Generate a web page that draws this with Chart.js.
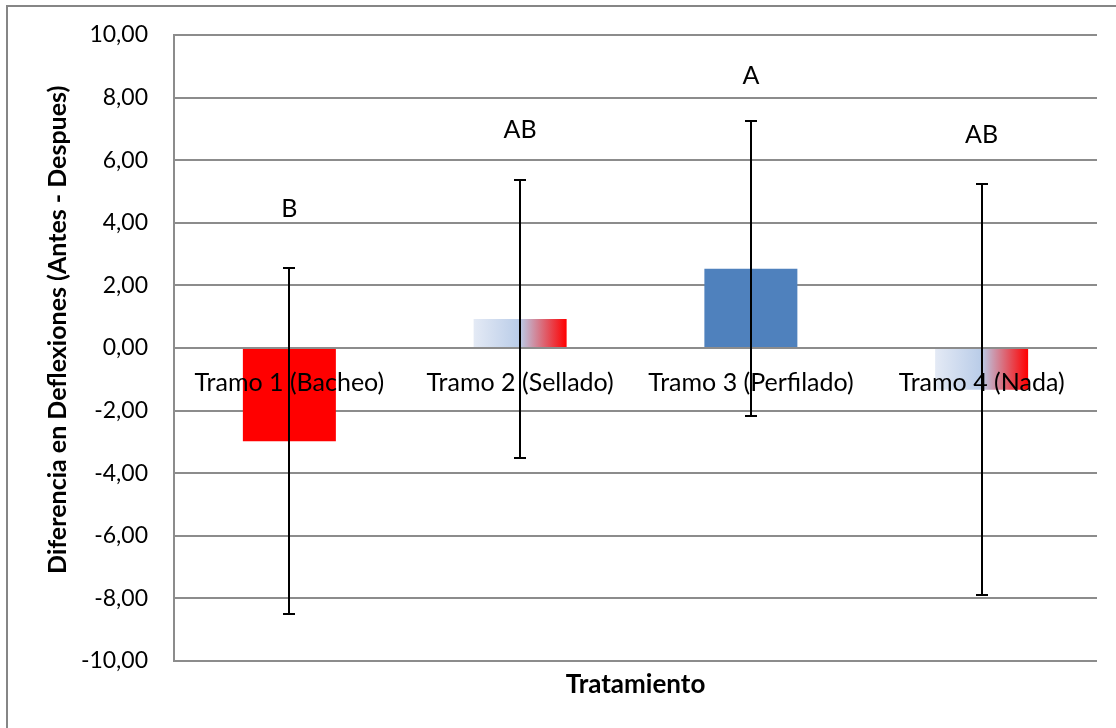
<!DOCTYPE html>
<html><head><meta charset="utf-8">
<script src="https://cdn.jsdelivr.net/npm/chart.js@4/dist/chart.umd.min.js"></script>
<style>html,body{margin:0;padding:0;background:#fff;} canvas{display:block;}</style>
</head><body>
<canvas id="c" width="1116" height="728"></canvas>
<script>
// ---- data ----
const categories = ['Tramo 1 (Bacheo)', 'Tramo 2 (Sellado)', 'Tramo 3 (Perfilado)', 'Tramo 4 (Nada)'];
const meanValues = [-2.98, 0.93, 2.53, -1.33];
const errorValues = [5.52, 4.45, 4.71, 6.57];
const groupLetters = ['B', 'AB', 'A', 'AB'];
const letterValues = [4.45, 6.97, 8.70, 6.81];
const yTickValues = [-10, -8, -6, -4, -2, 0, 2, 4, 6, 8, 10];

// ---- style ----
const FONT = 'Lato, "Liberation Sans", sans-serif';
const BAR_PCT = 0.403;
const fills = ['#FF0000', 'gradient', '#4F81BD', 'gradient'];
const GRID = '#8c8c8c';

function barFill(c) {
  const f = fills[c.dataIndex];
  if (f !== 'gradient') return f;
  const chart = c.chart; const xs = chart.scales && chart.scales.x;
  if (!xs || !isFinite(xs.left) || !(xs.width > 0)) return '#B9CCE8';
  const center = xs.getPixelForValue(c.dataIndex);
  const w = xs.width / categories.length * BAR_PCT;
  const g = chart.ctx.createLinearGradient(center - w / 2, 0, center + w / 2, 0);
  g.addColorStop(0, '#E4EAF5');
  g.addColorStop(0.5, '#B9CCE8');
  g.addColorStop(1, '#FF0000');
  return g;
}

const framePlugin = {
  id: 'frame',
  beforeDraw(chart) {
    const ctx = chart.ctx;
    ctx.save();
    ctx.fillStyle = '#fff';
    ctx.fillRect(0, 0, chart.width, chart.height);
    ctx.strokeStyle = '#868686';
    ctx.lineWidth = 2;
    ctx.strokeRect(7, 6, 3000, 3000);
    ctx.restore();
  }
};

const extrasPlugin = {
  id: 'extras',
  afterDraw(chart) {
    const ctx = chart.ctx, xs = chart.scales.x, ys = chart.scales.y;
    ctx.save();
    ctx.strokeStyle = '#000';
    ctx.lineWidth = 2;
    meanValues.forEach((m, i) => {
      const x = Math.round(xs.getPixelForValue(i));
      const yt = Math.round(ys.getPixelForValue(m + errorValues[i]));
      const yb = Math.round(ys.getPixelForValue(m - errorValues[i]));
      ctx.beginPath();
      ctx.moveTo(x, yt); ctx.lineTo(x, yb);
      ctx.moveTo(x - 6, yt); ctx.lineTo(x + 6, yt);
      ctx.moveTo(x - 6, yb); ctx.lineTo(x + 6, yb);
      ctx.stroke();
    });
    ctx.fillStyle = '#000';
    ctx.font = '25px ' + FONT;
    ctx.textAlign = 'center';
    ctx.textBaseline = 'middle';
    groupLetters.forEach((t, i) => {
      ctx.fillText(t, xs.getPixelForValue(i), ys.getPixelForValue(letterValues[i]));
    });
    ctx.restore();
  }
};

new Chart(document.getElementById('c'), {
  type: 'bar',
  data: {
    labels: categories,
    datasets: [{
      data: meanValues,
      backgroundColor: barFill,
      borderWidth: 0,
      barPercentage: BAR_PCT,
      categoryPercentage: 1
    }]
  },
  options: {
    responsive: false,
    animation: false,
    layout: { padding: { top: 35, right: 19, bottom: 0, left: 0 } },
    plugins: { legend: { display: false }, tooltip: { enabled: false } },
    scales: {
      x: {
        type: 'category',
        position: 'bottom',
        grid: { display: false, drawTicks: false },
        border: { display: false },
        ticks: { display: false },
        title: {
          display: true, text: 'Tratamiento', color: '#000',
          font: { family: FONT, size: 26, weight: 'bold' },
          padding: { top: 0, bottom: 28 }
        },
        afterFit(s) { s.height = 67; }
      },
      x2: {
        type: 'category',
        position: { y: 0 },
        offset: true,
        grid: { display: false, drawTicks: false },
        border: { display: false },
        ticks: {
          z: 1,
          color: '#000', padding: 20, maxRotation: 0, autoSkip: false,
          font: { family: FONT, size: 25 }
        }
      },
      y: {
        min: -10, max: 10,
        afterBuildTicks(s) { s.ticks = yTickValues.map(v => ({ value: v })); },
        grid: { color: GRID, lineWidth: 2, drawTicks: false },
        border: { display: true, color: GRID, width: 2 },
        ticks: {
          color: '#000', padding: 26,
          font: { family: FONT, size: 23 },
          callback: v => v.toFixed(2).replace('.', ',')
        },
        title: {
          display: true,
          text: '\u00A0\u00A0\u00A0\u00A0\u00A0\u00A0Diferencia en Deflexiones (Antes - Despues)',
          color: '#000',
          font: { family: FONT, size: 25, weight: 'bold' },
          padding: { top: 43, bottom: 0 }
        },
        afterFit(s) { s.width = 174; s.paddingTop = 0; s.paddingBottom = 0; }
      }
    }
  },
  plugins: [framePlugin, extrasPlugin]
});
</script>
</body></html>
